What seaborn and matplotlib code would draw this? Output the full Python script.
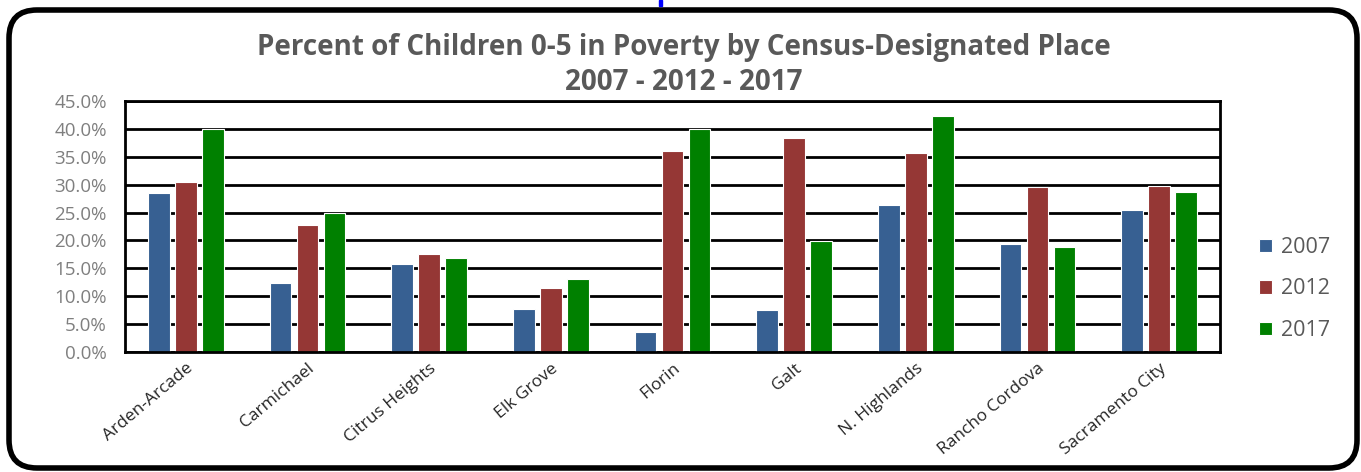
import matplotlib
matplotlib.use("Agg")
import matplotlib.pyplot as plt
from matplotlib.patches import FancyBboxPatch, Rectangle
from matplotlib.ticker import PercentFormatter
import seaborn as sns
import pandas as pd

places = ["Arden-Arcade", "Carmichael", "Citrus Heights", "Elk Grove", "Florin",
          "Galt", "N. Highlands", "Rancho Cordova", "Sacramento City"]
years = ["2007", "2012", "2017"]
pct_2007 = [28.5, 12.4, 15.8, 7.7, 3.5, 7.5, 26.3, 19.3, 25.5]
pct_2012 = [30.4, 22.7, 17.6, 11.5, 36.0, 38.4, 35.7, 29.5, 29.8]
pct_2017 = [40.0, 25.0, 16.8, 13.0, 40.0, 19.9, 42.3, 18.8, 28.6]
y_ticks = [0, 5, 10, 15, 20, 25, 30, 35, 40, 45]

colors = {"2007": "#376092", "2012": "#953735", "2017": "#008000"}

df = pd.DataFrame({
    "place": places * 3,
    "year": [y for y in years for _ in places],
    "pct": pct_2007 + pct_2012 + pct_2017,
})

sns.set_theme(style="white")
plt.rcParams["font.family"] = ["Open Sans", "DejaVu Sans"]

W, H = 1361, 472
fig = plt.figure(figsize=(W / 100, H / 100), dpi=100)
ax = fig.add_axes([125 / W, 1 - 352 / H, (1220 - 125) / W, (352 - 101) / H])

sns.barplot(data=df, x="place", y="pct", hue="year", palette=colors,
            saturation=1, width=0.665, gap=0.2, edgecolor="white", linewidth=0.8,
            legend=True, ax=ax)

ax.set_ylim(0, 45)
ax.set_xlim(-0.5, len(places) - 0.5)
ax.set_yticks(y_ticks)
ax.yaxis.set_major_formatter(PercentFormatter(decimals=1))
ax.yaxis.grid(True, color="black", linewidth=2.0)
ax.set_axisbelow(True)
for s in ax.spines.values():
    s.set_color("black")
    s.set_linewidth(2.0)
ax.set_xlabel("")
ax.set_ylabel("")
ax.tick_params(axis="y", labelsize=13.5, labelcolor="#7f7f7f", length=0, pad=13)
ax.tick_params(axis="x", labelsize=12.5, labelcolor="#262626", length=0, pad=6)
for lbl in ax.get_xticklabels():
    lbl.set_rotation(40)
    lbl.set_ha("right")
    lbl.set_rotation_mode("anchor")

handles, labels = ax.get_legend_handles_labels()
ax.legend_.remove()
fig.legend(handles, labels, loc="center left", bbox_to_anchor=(1240 / W, 1 - 289 / H),
           frameon=False, fontsize=15.5, labelcolor="#595959", handlelength=0.6,
           handleheight=0.6, handletextpad=0.4, labelspacing=0.95)

fig.text(684 / W, 1 - 47 / H, "Percent of Children 0-5 in Poverty by Census-Designated Place",
         ha="center", va="center", fontsize=20, fontweight="bold", color="#595959")
fig.text(684 / W, 1 - 82 / H, "2007 - 2012 - 2017",
         ha="center", va="center", fontsize=20, fontweight="bold", color="#595959")

# rounded outer frame, laid out in pixel units
frame = FancyBboxPatch((9, 4), 1348, 458,
                       boxstyle="round,pad=0,rounding_size=28",
                       transform=None, fill=False,
                       edgecolor="black", linewidth=4)
fig.patches.append(frame)
fig.patches.append(Rectangle((659 / W, 1 - 6 / H), 3 / W, 6 / H,
                             transform=fig.transFigure, color="#0000ff"))

fig.savefig("out.png", dpi=100, facecolor="white")
